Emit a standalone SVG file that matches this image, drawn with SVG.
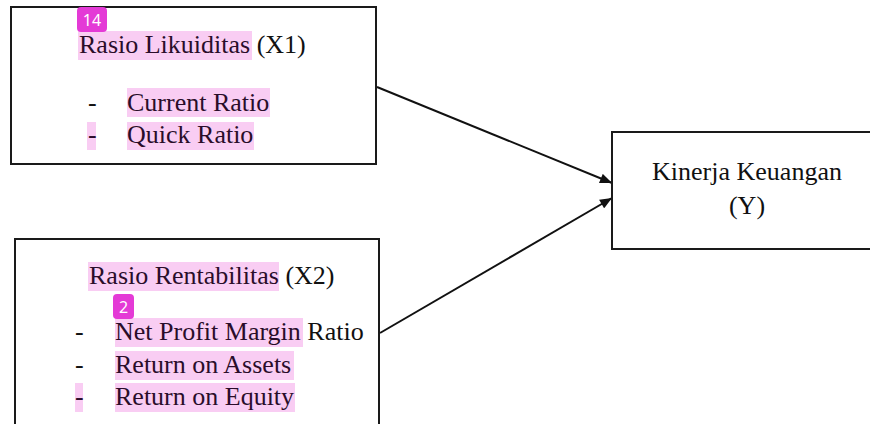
<svg xmlns="http://www.w3.org/2000/svg" width="870" height="424" viewBox="0 0 870 424">
<defs>
<style>
.box{fill:#fff;stroke:#1a1a1a;stroke-width:2}
.t{font-family:"Liberation Serif","Times New Roman",serif;font-size:26px;fill:#111}
.h{fill:#2a0d2a}
.hl{fill:#f9cdf3}
.badge{fill:#e43ad6}
.bt{font-family:"Noto Sans","DejaVu Sans",sans-serif;font-size:16px;fill:#fff}
.conn{stroke:#111;stroke-width:2;fill:none}
</style>
<marker id="arr" viewBox="0 0 12 10" refX="12" refY="5" markerWidth="13" markerHeight="10" markerUnits="userSpaceOnUse" orient="auto">
<path d="M0,0 L12,5 L0,10 z" fill="#111"/>
</marker>
</defs>
<rect width="870" height="424" fill="#fff"/>
<g id="connectors">
<line class="conn" x1="377" y1="87" x2="612" y2="183" marker-end="url(#arr)"/>
<line class="conn" x1="380" y1="333" x2="612" y2="198" marker-end="url(#arr)"/>
</g>
<g id="x1">
<rect class="box" x="11" y="7" width="365" height="157"/>
<rect class="hl" x="78" y="31" width="174" height="29"/>
<rect class="hl" x="127" y="88" width="143" height="29"/>
<rect class="hl" x="87" y="122" width="9" height="28"/>
<rect class="hl" x="127" y="122" width="127" height="28"/>
<text class="t" x="79" y="53"><tspan class="h">Rasio Likuiditas</tspan> (X1)</text>
<text class="t" x="88" y="111">-</text>
<text class="t h" x="127" y="111">Current Ratio</text>
<text class="t h" x="88" y="143">-</text>
<text class="t h" x="127" y="143">Quick Ratio</text>
<rect class="badge" x="77" y="7" width="30" height="25" rx="4"/>
<text class="bt" x="92" y="25.5" text-anchor="middle">14</text>
</g>
<g id="x2">
<rect class="box" x="15" y="239" width="364" height="200"/>
<rect class="hl" x="88" y="262" width="191" height="29"/>
<rect class="hl" x="115" y="318" width="188" height="29"/>
<rect class="hl" x="115" y="351" width="179" height="29"/>
<rect class="hl" x="75" y="383" width="8" height="29"/>
<rect class="hl" x="115" y="383" width="180" height="29"/>
<text class="t" x="89" y="284"><tspan class="h">Rasio Rentabilitas</tspan> (X2)</text>
<text class="t" x="75" y="340">-</text>
<text class="t" x="115" y="340"><tspan class="h">Net Profit Margin</tspan> Ratio</text>
<text class="t" x="75" y="373">-</text>
<text class="t h" x="115" y="373">Return on Assets</text>
<text class="t h" x="75" y="405">-</text>
<text class="t h" x="115" y="405">Return on Equity</text>
<rect class="badge" x="113" y="294" width="21" height="25" rx="4"/>
<text class="bt" x="123.5" y="312.5" text-anchor="middle">2</text>
</g>
<g id="y">
<rect class="box" x="612" y="132" width="270" height="117"/>
<text class="t" x="747" y="180" text-anchor="middle">Kinerja Keuangan</text>
<text class="t" x="747" y="214" text-anchor="middle">(Y)</text>
</g>
</svg>
